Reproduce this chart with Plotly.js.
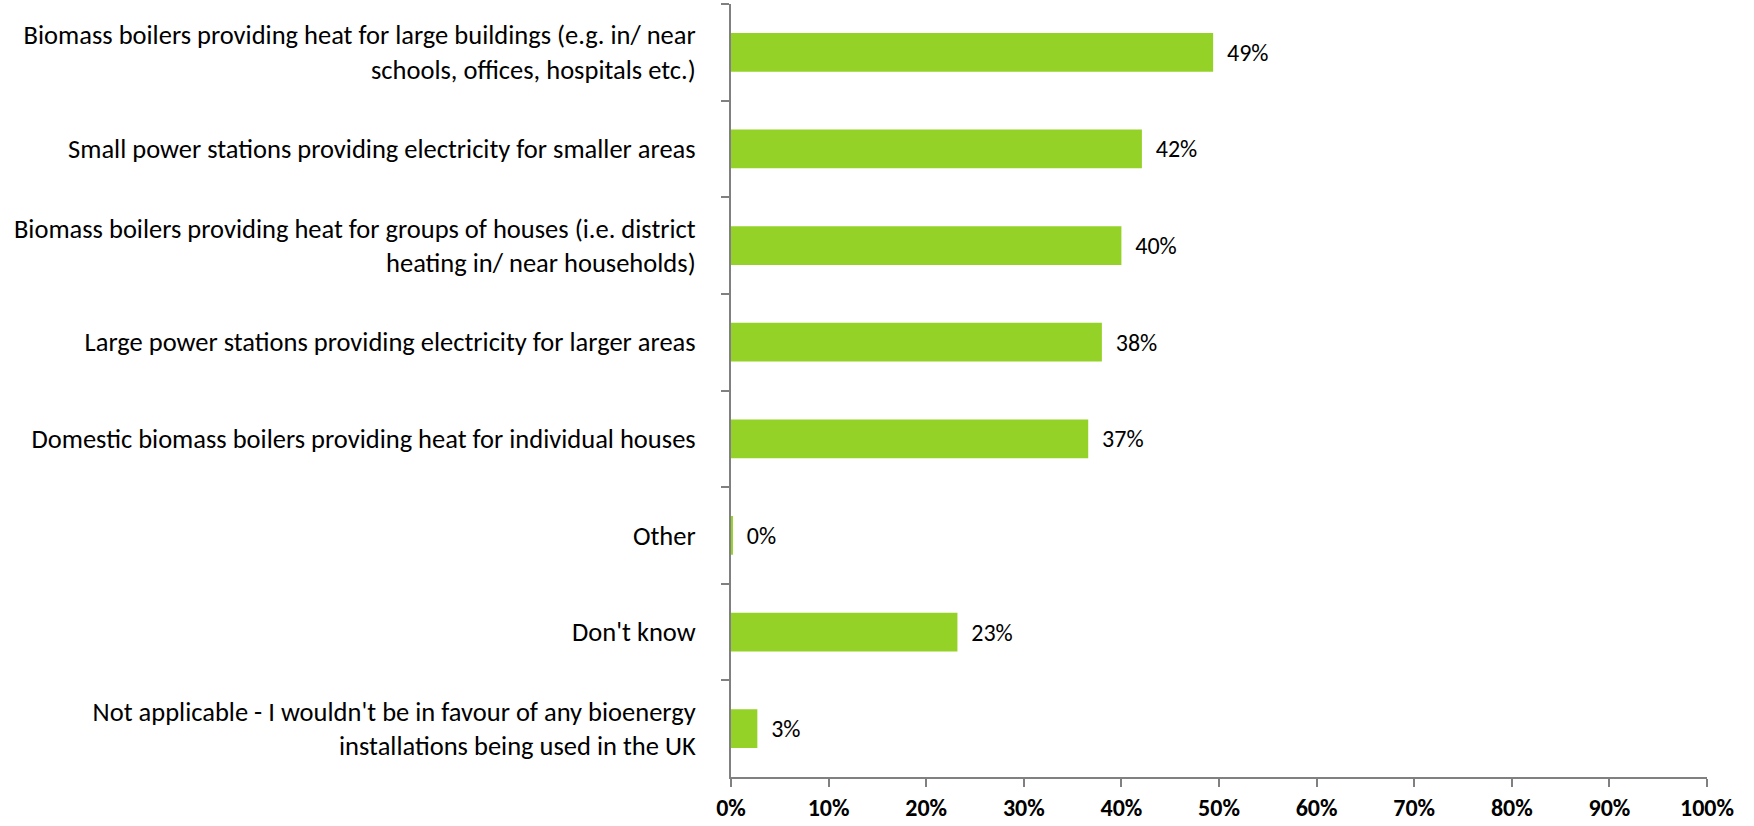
<!DOCTYPE html>
<html>
<head>
<meta charset="utf-8">
<script src="https://cdn.plot.ly/plotly-3.0.1.min.js"></script>
<style>
html,body{margin:0;padding:0;background:#fff;}
#chart{width:1754px;height:826px;}
</style>
</head>
<body>
<div id="chart"></div>
<script>
const categories = [
  "Biomass boilers providing heat for large buildings (e.g. in/ near<br>schools, offices, hospitals etc.)",
  "Small power stations providing electricity for smaller areas",
  "Biomass boilers providing heat for groups of houses (i.e. district<br>heating in/ near households)",
  "Large power stations providing electricity for larger areas",
  "Domestic biomass boilers providing heat for individual houses",
  "Other",
  "Don't know",
  "Not applicable - I wouldn't be in favour of any bioenergy<br>installations being used in the UK"
];
const values = [0.494, 0.421, 0.400, 0.380, 0.366, 0.002, 0.232, 0.027];
const xTickVals = [0,0.1,0.2,0.3,0.4,0.5,0.6,0.7,0.8,0.9,1.0];

const FONT = "Carlito, Calibri, Lato, sans-serif";

const trace = {
  type: 'bar',
  orientation: 'h',
  y: categories,
  x: values,
  marker: {color: '#95D227'},
  texttemplate: '\u00a0\u00a0%{x:.0%}',
  textposition: 'outside',
  textfont: {family: FONT, size: 24, color: '#000'},
  cliponaxis: false,
  hoverinfo: 'none'
};

const layout = {
  width: 1754,
  height: 826,
  margin: {l: 731, r: 47, t: 4, b: 49},
  paper_bgcolor: '#fff',
  plot_bgcolor: '#fff',
  bargap: 0.6,
  showlegend: false,
  xaxis: {
    range: [0, 1],
    tickvals: xTickVals,
    tickformat: '.0%',
    showgrid: false,
    zeroline: false,
    showline: true,
    linecolor: '#808080',
    linewidth: 2,
    ticks: 'outside',
    ticklen: 8,
    tickwidth: 2,
    tickcolor: '#808080',
    ticklabelstandoff: 0,
    tickfont: {family: FONT, size: 24, color: '#000', weight: 'bold'},
    fixedrange: true
  },
  yaxis: {
    type: 'category',
    autorange: 'reversed',
    showgrid: false,
    zeroline: false,
    showline: true,
    linecolor: '#808080',
    linewidth: 2,
    ticks: 'outside',
    tickson: 'boundaries',
    ticklen: 8,
    tickwidth: 2,
    tickcolor: '#808080',
    ticklabelstandoff: 28,
    tickfont: {family: FONT, size: 26.5, color: '#000'},
    fixedrange: true
  }
};

Plotly.newPlot('chart', [trace], layout, {displayModeBar: false, staticPlot: true});
</script>
</body>
</html>
